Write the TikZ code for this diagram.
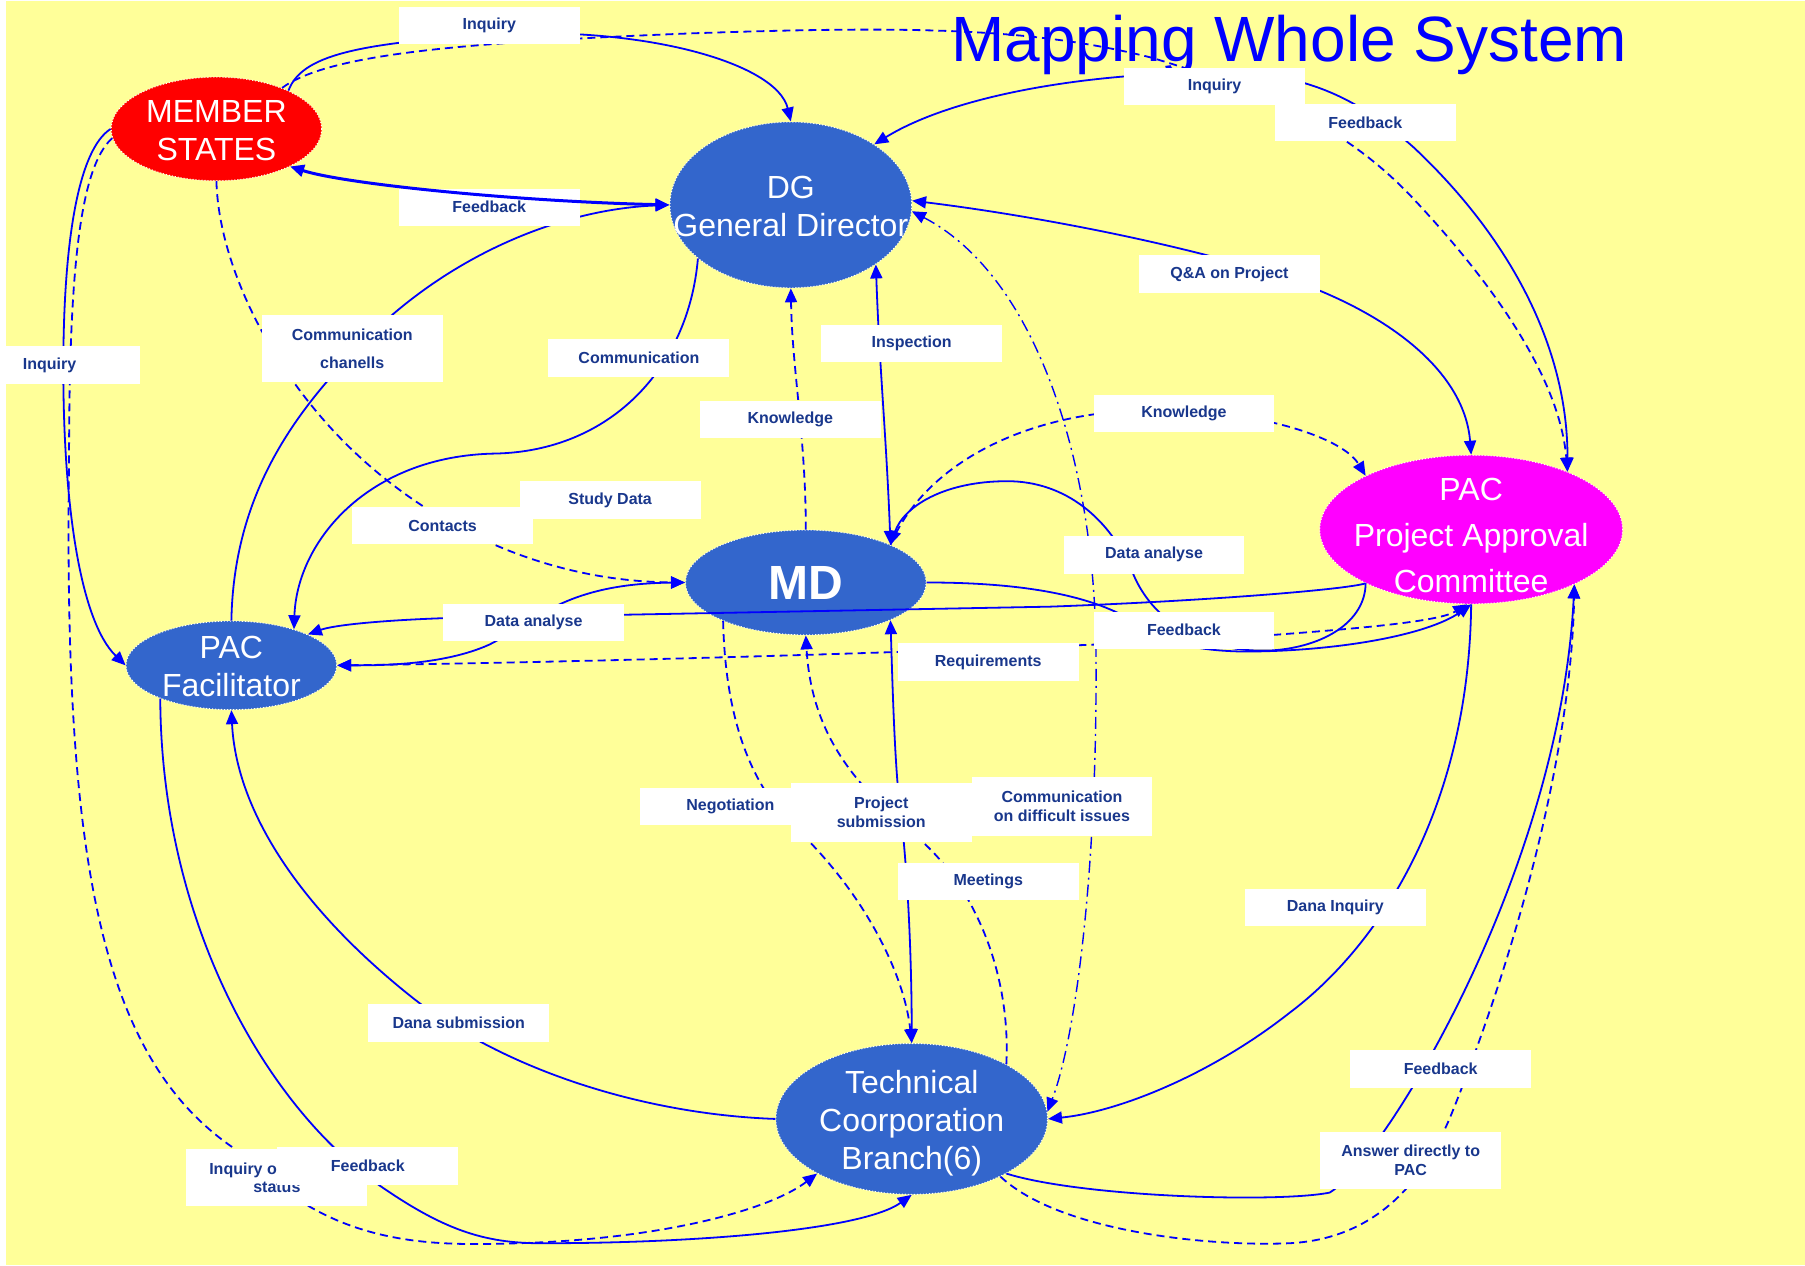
\documentclass[tikz,border=0pt]{standalone}
\usepackage{fontspec}
\setmainfont{Liberation Sans}
\usetikzlibrary{shapes.geometric,arrows.meta}
\definecolor{paper}{RGB}{255,255,153}
\definecolor{ovalblue}{RGB}{51,102,204}
\definecolor{ovalpink}{RGB}{255,0,255}
\definecolor{ovalred}{RGB}{255,0,0}
\definecolor{tagblue}{RGB}{25,55,140}
\definecolor{linkblue}{RGB}{0,0,255}
\newcommand{\ovaltext}[2][-6.7pt]{\makebox[0pt]{\raisebox{#1}[0pt][0pt]{\begin{tabular}{@{}c@{}}#2\end{tabular}}}}
\begin{document}
\begin{tikzpicture}[x=0.5756pt,y=-0.5756pt,>={Triangle[length=7pt,width=6pt]},
  oval/.style={ellipse,draw=white,densely dotted,line width=0.5pt,inner sep=0pt,text=white,font=\fontsize{16}{19}\selectfont},
  tag/.style={fill=white,text=tagblue,inner sep=0pt,align=center,minimum width=90.4pt,minimum height=18.7pt,font=\bfseries\fontsize{8}{9.2}\selectfont},
  link/.style={linkblue,line width=0.9pt},
  dashlink/.style={link,dash pattern=on 4pt off 2.5pt},
  dotlink/.style={linkblue,line width=0.7pt,dash pattern=on 6pt off 2.5pt on 1pt off 2.5pt}]
\useasboundingbox (0,0) rectangle (1568,1099);
\fill[white] (0,0) rectangle (1568,1099);
\fill[paper] (5,1) rectangle (1568,1099);

\node[text=linkblue,font=\fontsize{32}{36}\selectfont,anchor=base] (title) at (1120,53) {Mapping Whole System};

\node[oval,fill=ovalred,minimum width=105.3pt,minimum height=51.8pt] (ms) at (188,112) {\ovaltext{MEMBER\\STATES}};
\node[oval,fill=ovalblue,minimum width=120.9pt,minimum height=82.9pt] (dg) at (687,178) {\ovaltext{DG\\General Director}};
\node[oval,fill=ovalblue,minimum width=120.3pt,minimum height=52.4pt,font=\bfseries\fontsize{24}{28}\selectfont] (md) at (700,506) {MD};
\node[oval,fill=ovalpink,minimum width=151.4pt,minimum height=74.3pt,font=\fontsize{16}{23}\selectfont] (pac) at (1278,460) {\ovaltext[-8pt]{PAC\\Project Approval\\Committee}};
\node[oval,fill=ovalblue,minimum width=105.3pt,minimum height=44.3pt] (pacf) at (201,578) {\ovaltext{PAC\\Facilitator}};
\node[oval,fill=ovalblue,minimum width=135.8pt,minimum height=75.4pt] (tcb) at (792,972) {\ovaltext{Technical\\Coorporation\\Branch(6)}};

\draw[link,->] (ms.28) .. controls (262,48) and (310,38) .. (425,30) .. controls (560,22) and (675,55) .. (dg.90);
\draw[dashlink,->] (ms.32) .. controls (285,47) and (400,37) .. (600,29) .. controls (800,22) and (900,25) .. (1000,50) .. controls (1100,80) and (1170,110) .. (1230,175) .. controls (1300,250) and (1355,330) .. (pac.31);
\draw[link,<->] (dg.36) .. controls (830,82) and (950,62) .. (1068,63) .. controls (1140,64) and (1185,90) .. (1228,128) .. controls (1310,205) and (1362,300) .. (pac.31);
\draw[link,->] (pacf.90) .. controls (203,430) and (255,360) .. (310,303) .. controls (380,228) and (480,182) .. (dg.180);
\draw[dashlink,->] (ms.-90) .. controls (190,230) and (235,320) .. (300,385) .. controls (370,455) and (470,505) .. (md.180);
\draw[link,->] (dg.-150) .. controls (598,320) and (530,392) .. (430,394) .. controls (320,396) and (258,470) .. (pacf.30);
\draw[link,->] (ms.180) .. controls (68,130) and (55,210) .. (55,320) .. controls (55,440) and (70,540) .. (pacf.180);
\draw[dashlink,->] (ms.-175) .. controls (70,145) and (60,230) .. (60,400) .. controls (55,760) and (90,930) .. (215,1005) .. controls (290,1085) and (380,1082) .. (450,1080) .. controls (580,1076) and (670,1050) .. (tcb.-150);
\draw[link,->] (pacf.-155) .. controls (140,800) and (230,960) .. (330,1030) .. controls (385,1068) and (420,1080) .. (470,1080) .. controls (610,1080) and (750,1068) .. (tcb.-90);
\draw[link,->] (tcb.180) .. controls (560,968) and (440,930) .. (360,868) .. controls (255,785) and (205,700) .. (pacf.-90);
\draw[link,<->] (md.180) .. controls (490,507) and (465,540) .. (425,560) .. controls (385,578) and (330,578) .. (pacf.0);
\draw[link,->] (pac.-153) .. controls (1170,512) and (1050,522) .. (912,527) -- (385,537) .. controls (330,539) and (290,543) .. (pacf.22);
\draw[link,->] (pac.-153) .. controls (1186,540) and (1150,562) .. (1105,565) .. controls (1040,568) and (1000,535) .. (985,500) .. controls (965,450) and (925,418) .. (875,418) .. controls (820,418) and (785,440) .. (md.24);
\draw[link,->] (md.0) .. controls (880,506) and (945,515) .. (985,540) .. controls (1010,556) and (1030,565) .. (1080,566) .. controls (1160,566) and (1240,552) .. (pac.-90);
\draw[dashlink,<->] (pacf.0) .. controls (600,574) and (1000,560) .. (1100,552) .. controls (1180,546) and (1250,540) .. (pac.-93);
\draw[link,<->] (md.-24) .. controls (776,620) and (778,680) .. (784,720) .. controls (790,780) and (792,850) .. (tcb.90);
\draw[dashlink,->] (md.-155) .. controls (630,620) and (650,680) .. (690,718) .. controls (755,780) and (786,850) .. (tcb.90);
\draw[dashlink,->] (tcb.30) .. controls (878,850) and (850,775) .. (800,730) .. controls (745,685) and (705,640) .. (md.-90);
\draw[dotlink,<->] (dg.-3) .. controls (900,240) and (950,400) .. (952,560) .. controls (954,750) and (935,900) .. (tcb.3);
\draw[link,<->] (pac.90) .. controls (1272,320) and (1200,266) .. (1100,236) .. controls (1000,206) and (880,185) .. (dg.2);
\draw[dashlink,->] (md.90) .. controls (700,380) and (688,320) .. (dg.-90);
\draw[link,<->] (dg.-35) .. controls (764,320) and (770,380) .. (md.24);
\draw[dashlink,->] (md.24) .. controls (800,410) and (880,358) .. (1000,356) .. controls (1085,355) and (1165,378) .. (pac.153);
\draw[link,->] (pac.-90) .. controls (1276,700) and (1200,820) .. (1120,880) .. controls (1050,935) and (970,966) .. (tcb.0);
\draw[link,->] (tcb.-30) .. controls (940,1040) and (1110,1045) .. (1155,1036) .. controls (1200,1010) and (1355,760) .. (pac.-28);
\draw[dashlink,->] (tcb.-33) .. controls (920,1070) and (1050,1083) .. (1120,1080) .. controls (1200,1076) and (1240,1020) .. (1262,965) .. controls (1320,820) and (1365,650) .. (pac.-28);

\node[tag] (inqA) at (425,22) {Inquiry};
\node[tag] (fbA) at (425,180) {Feedback};
\node[tag] (inqB) at (1055,75) {Inquiry};
\node[tag] (fbB) at (1186,106.5) {Feedback};
\node[tag] (qa) at (1068,238) {Q\&A on Project};
\node[tag,minimum height=33.4pt,font=\bfseries\fontsize{8}{14.4}\selectfont] (chan) at (306,303) {Communication\\chanells};
\node[tag] (inqC) at (43,317) {Inquiry};
\node[tag] (comm) at (555,311) {Communication};
\node[tag] (insp) at (792,298.5) {Inspection};
\node[tag] (knowA) at (686.5,364.5) {Knowledge};
\node[tag] (knowB) at (1028.5,359) {Knowledge};
\node[tag] (study) at (530,434.5) {Study Data};
\node[tag] (cont) at (384.5,456.5) {Contacts};
\node[tag] (daB) at (1002.5,482) {Data analyse};
\node[tag] (daA) at (463.5,540.5) {Data analyse};
\node[tag] (fbC) at (1028.5,547.5) {Feedback};
\node[tag] (req) at (858.5,575) {Requirements};
\node[tag] (neg) at (634.5,700.5) {Negotiation};
\node[tag,minimum height=29.4pt] (proj) at (765.5,705.5) {Project\\submission};
\node[tag,minimum height=29.4pt] (cdi) at (922.5,700.5) {Communication\\on difficult issues};
\node[tag] (meet) at (858.5,766) {Meetings};
\node[tag] (dinq) at (1160,788.5) {Dana Inquiry};
\node[tag] (dsub) at (398.5,888.5) {Dana submission};
\node[tag] (fbD) at (1251.5,928.5) {Feedback};
\node[tag,minimum height=28.8pt] (ans) at (1225.5,1008) {Answer directly to\\PAC};
\node[tag,minimum height=28.8pt] (inqst) at (240.5,1023) {Inquiry o\phantom{n project}\\status};
\node[tag] (fbE) at (319.5,1013) {Feedback};

\draw[link,line width=1.5pt,<->] (ms.-27) .. controls (300,160) and (450,175) .. (dg.180);
\end{tikzpicture}
\end{document}
